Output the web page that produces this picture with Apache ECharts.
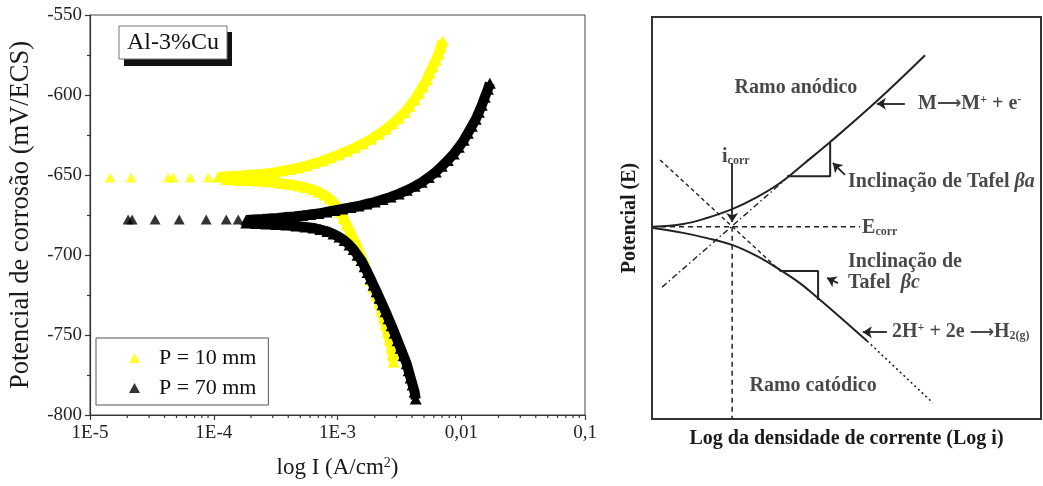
<!DOCTYPE html>
<html>
<head>
<meta charset="utf-8">
<script src="https://cdn.jsdelivr.net/npm/echarts@6/dist/echarts.min.js"></script>
<style>
  html, body { margin: 0; padding: 0; background: #fff; }
  #chart { width: 1043px; height: 486px; }
</style>
</head>
<body>
<div id="chart"></div>
<script>
// ---------- Polarization curves of Al-3%Cu (x: log10 of I in A/cm², y: E in mV/ECS) ----------
// P = 10 mm
const p10SparseLogI = [-4.838, -4.668, -4.368, -4.328, -4.190, -4.045];
const p10SparseE    = [-651.5, -651.5, -651.5, -651.5, -651.5, -651.5];

const p10AnodicLogI = [-3.964, -3.899, -3.834, -3.769, -3.704, -3.640, -3.575, -3.510, -3.445, -3.381,
                       -3.316, -3.251, -3.186, -3.121, -3.057, -2.992, -2.927, -2.862, -2.798, -2.733,
                       -2.668, -2.611, -2.555, -2.506, -2.457, -2.417, -2.377, -2.344, -2.312, -2.279,
                       -2.255, -2.231, -2.206, -2.182, -2.166, -2.150];
const p10AnodicE    = [-651.2, -650.9, -650.6, -650.3, -649.9, -649.6, -649.0, -648.4, -647.4, -646.5,
                       -645.6, -644.3, -642.7, -641.2, -639.3, -637.4, -635.2, -633.0, -630.5, -627.7,
                       -624.6, -621.4, -618.0, -614.5, -610.8, -607.0, -602.9, -598.9, -594.8, -590.4,
                       -586.3, -582.3, -578.2, -574.1, -570.1, -566.3];

const p10CathodicLogI = [-3.899, -3.834, -3.769, -3.704, -3.640, -3.575, -3.510, -3.445, -3.381, -3.316,
                         -3.259, -3.202, -3.154, -3.105, -3.065, -3.032, -3.000, -2.976, -2.951, -2.927,
                         -2.903, -2.879, -2.854, -2.830, -2.806, -2.781, -2.757, -2.733, -2.709, -2.684,
                         -2.660, -2.644, -2.628, -2.611, -2.595, -2.579, -2.563, -2.555, -2.547];
const p10CathodicE    = [-652.8, -653.1, -653.4, -653.4, -653.7, -654.0, -654.6, -655.3, -655.9, -656.8,
                         -657.8, -659.0, -660.6, -662.5, -664.7, -667.2, -670.3, -673.4, -677.2, -681.0,
                         -684.7, -689.1, -692.9, -697.2, -701.6, -706.0, -711.0, -715.4, -720.4, -725.4,
                         -730.5, -734.8, -739.2, -743.6, -748.0, -753.0, -758.0, -762.4, -766.8];

// P = 70 mm
const p70SparseLogI = [-4.692, -4.660, -4.474, -4.279, -4.061, -3.899, -3.802];
const p70SparseE    = [-677.8, -677.8, -677.8, -677.8, -677.8, -677.8, -677.8];

const p70AnodicLogI = [-3.737, -3.672, -3.607, -3.543, -3.478, -3.413, -3.348, -3.283, -3.219, -3.154,
                       -3.089, -3.024, -2.960, -2.895, -2.830, -2.765, -2.700, -2.636, -2.571, -2.506,
                       -2.441, -2.377, -2.320, -2.263, -2.206, -2.158, -2.109, -2.061, -2.020, -1.980,
                       -1.947, -1.915, -1.883, -1.858, -1.834, -1.810, -1.785, -1.769];
const p70AnodicE    = [-678.1, -677.8, -677.5, -677.2, -676.9, -676.3, -675.9, -675.3, -674.7, -674.1,
                       -673.1, -672.2, -671.2, -670.3, -669.4, -668.1, -666.9, -665.3, -663.7, -661.8,
                       -659.6, -657.1, -654.6, -651.5, -648.1, -644.6, -640.9, -636.8, -632.7, -628.3,
                       -623.9, -619.5, -615.2, -610.8, -606.4, -601.4, -596.4, -592.6];

const p70CathodicLogI = [-3.737, -3.656, -3.575, -3.494, -3.413, -3.332, -3.259, -3.194, -3.138, -3.081,
                         -3.032, -2.984, -2.943, -2.903, -2.870, -2.838, -2.806, -2.781, -2.757, -2.733,
                         -2.709, -2.684, -2.660, -2.636, -2.611, -2.587, -2.563, -2.538, -2.514, -2.490,
                         -2.466, -2.441, -2.425, -2.409, -2.393, -2.377, -2.368];
const p70CathodicE    = [-680.0, -680.3, -680.6, -681.0, -681.3, -681.9, -682.5, -683.1, -684.1, -685.3,
                         -686.9, -688.8, -691.0, -693.8, -696.6, -700.1, -703.5, -707.3, -711.0, -714.8,
                         -718.9, -722.9, -727.0, -731.1, -735.5, -739.8, -744.2, -748.9, -753.6, -758.3,
                         -763.0, -768.0, -772.4, -776.8, -781.2, -785.6, -790.0];

const seriesNames = ['P = 10 mm', 'P = 70 mm'];
const xTickLabels = ['1E-5', '1E-4', '1E-3', '0,01', '0,1'];
const xDecades = [-5, -4, -3, -2];
const minorMultipliers = [2, 3, 4, 5, 6, 7, 8, 9];

// ---------- Tafel schematic (arbitrary units: log i and E) ----------
const anodicCurveX   = [0.03, 0.80, 1.41, 2.06, 2.70, 3.29, 3.93, 4.58, 5.78, 7.02];
const anodicCurveE   = [4.78, 4.85, 5.00, 5.22, 5.52, 5.87, 6.37, 6.89, 7.91, 9.05];
const cathodicCurveX = [0.03, 0.80, 1.41, 2.06, 2.70, 3.29, 3.80, 4.24, 4.83, 5.53];
const cathodicCurveE = [4.75, 4.63, 4.50, 4.33, 4.05, 3.71, 3.38, 3.03, 2.54, 1.94];
const cathodicTail   = [[5.53, 1.94], [7.22, 0.40]];
const anodicTafel    = [[0.26, 3.28], [3.42, 5.95]];
const cathodicTafel  = [[0.21, 6.44], [3.30, 3.68]];
const ecorrLine      = [[0, 4.78], [5.35, 4.78]];
const icorrLine      = [[2.06, 4.78], [2.06, 0]];
const slopeTriangleA = [[3.47, 6.04], [4.58, 6.04], [4.58, 6.87]];
const slopeTriangleC = [[3.29, 3.68], [4.27, 3.68], [4.27, 2.96]];
const pointerArrows  = [
  [[2.06, 6.37], [2.06, 4.90]],
  [[6.50, 7.84], [5.78, 7.84]],
  [[4.96, 6.07], [4.65, 6.37]],
  [[4.78, 3.38], [4.50, 3.51]],
  [[6.04, 2.16], [5.42, 2.16]]
];
const schematicLabels = [
  { text: '{b|Ramo anódico}', at: [3.70, 8.23], align: 'center' },
  { text: '{b|M}{ar|⟶}{b|M}{sup|+}{b| + e}{sup|-}', at: [6.84, 7.84], align: 'left' },
  { text: '{b|i}{sub|corr}', at: [1.80, 6.52], align: 'left' },
  { text: '{b|Inclinação de Tafel }{bi|βa}', at: [5.04, 5.90], align: 'left' },
  { text: '{b|E}{sub|corr}', at: [5.40, 4.75], align: 'left' },
  { text: '{b|Inclinação de}', at: [5.04, 3.91], align: 'left' },
  { text: '{b|Tafel  }{bi|βc}', at: [5.04, 3.38], align: 'left' },
  { text: '{b|2H}{sup|+}{b| + 2e }{ar|⟶}{b|H}{sub|2(g)}', at: [6.17, 2.16], align: 'left' },
  { text: '{b|Ramo catódico}', at: [4.14, 0.82], align: 'center' }
];

// ---------- helpers ----------
const SERIF = '"Liberation Serif", "Times New Roman", serif';
const YELLOW = '#ffff00';
const BLACK = '#000000';
const toPoints = (logI, e) => logI.map((v, i) => [Math.pow(10, v), e[i]]);
const zip = (xs, ys) => xs.map((v, i) => [v, ys[i]]);
const minorTicks = [];
xDecades.forEach(d => minorMultipliers.forEach(m => minorTicks.push([m * Math.pow(10, d), -800])));

function bandSeries(name, color, data, z) {
  return {
    type: 'line', name, data, xAxisIndex: 0, yAxisIndex: 0,
    symbol: 'triangle', symbolSize: [12, 11], showSymbol: true,
    itemStyle: { color }, lineStyle: { color, width: 10 },
    z, silent: true, animation: false
  };
}
function sparseSeries(name, color, data, z) {
  return {
    type: 'scatter', name, data, xAxisIndex: 0, yAxisIndex: 0,
    symbol: 'triangle', symbolSize: [11, 10],
    itemStyle: { color }, z, silent: true
  };
}
function schemLine(data, type, width, extra) {
  return Object.assign({
    type: 'line', xAxisIndex: 1, yAxisIndex: 1, data, showSymbol: false, symbol: 'none',
    lineStyle: { color: '#222', width, type }, silent: true, z: 3
  }, extra || {});
}

const boldRich = {
  b:   { fontFamily: SERIF, fontWeight: 'bold', fontSize: 20, color: '#1a1a1a' },
  bi:  { fontFamily: SERIF, fontWeight: 'bold', fontStyle: 'italic', fontSize: 20, color: '#1a1a1a' },
  ar:  { fontFamily: '"DejaVu Sans", sans-serif', fontWeight: 'bold', fontSize: 17, color: '#1a1a1a' },
  sup: { fontFamily: SERIF, fontWeight: 'bold', fontSize: 12, color: '#1a1a1a', verticalAlign: 'top' },
  sub: { fontFamily: SERIF, fontWeight: 'bold', fontSize: 12, color: '#1a1a1a', verticalAlign: 'bottom' }
};

const chart = echarts.init(document.getElementById('chart'), null, { renderer: 'canvas' });

chart.setOption({
  animation: false,
  backgroundColor: '#ffffff',
  grid: [
    { left: 90, top: 15, width: 495, height: 400, show: true, borderColor: '#444', borderWidth: 1, backgroundColor: 'transparent' },
    { left: 652, top: 17, right: 2, bottom: 67, show: true, borderColor: '#333', borderWidth: 2, backgroundColor: 'transparent' }
  ],
  xAxis: [
    {
      gridIndex: 0, type: 'log', logBase: 10, min: 1e-5, max: 0.1,
      name: '{a|log I (A/cm}{s|2}{a|)}', nameLocation: 'middle', nameGap: 41,
      nameTextStyle: { rich: {
        a: { fontFamily: SERIF, fontSize: 23, color: '#1a1a1a' },
        s: { fontFamily: SERIF, fontSize: 14, color: '#1a1a1a', verticalAlign: 'top' }
      } },
      axisLine: { show: true, lineStyle: { color: '#333', width: 1.2 } },
      axisTick: { show: true, inside: false, length: 5, lineStyle: { color: '#333', width: 1.2 } },
      minorTick: { show: false },
      splitLine: { show: false },
      axisLabel: {
        fontFamily: SERIF, fontSize: 19, color: '#222', margin: 9,
        formatter: v => xTickLabels[Math.round(Math.log10(v)) + 5]
      }
    },
    {
      gridIndex: 1, type: 'value', min: 0, max: 10,
      name: 'Log da densidade de corrente (Log i)', nameLocation: 'middle', nameGap: 10,
      nameTextStyle: { fontFamily: SERIF, fontWeight: 'bold', fontSize: 20, color: '#1a1a1a', verticalAlign: 'top' },
      axisLine: { show: true, lineStyle: { color: '#333', width: 2 } },
      axisTick: { show: false }, axisLabel: { show: false }, splitLine: { show: false }
    }
  ],
  yAxis: [
    {
      gridIndex: 0, type: 'value', min: -800, max: -550, interval: 50,
      name: 'Potencial de corrosão (mV/ECS)', nameLocation: 'middle', nameGap: 55,
      nameTextStyle: { fontFamily: SERIF, fontSize: 26.5, color: '#1a1a1a' },
      axisLine: { show: true, lineStyle: { color: '#333', width: 1.2 } },
      axisTick: { show: true, inside: false, length: 5, lineStyle: { color: '#333', width: 1.2 } },
      minorTick: { show: true, splitNumber: 2, length: 3, lineStyle: { color: '#333', width: 1.2 } },
      splitLine: { show: false },
      axisLabel: { fontFamily: SERIF, fontSize: 19, color: '#222', margin: 8 }
    },
    {
      gridIndex: 1, type: 'value', min: 0, max: 10,
      name: 'Potencial (E)', nameLocation: 'middle', nameGap: 12,
      nameTextStyle: { fontFamily: SERIF, fontWeight: 'bold', fontSize: 20, color: '#1a1a1a' },
      axisLine: { show: true, lineStyle: { color: '#333', width: 2 } },
      axisTick: { show: false }, axisLabel: { show: false }, splitLine: { show: false }
    }
  ],
  legend: {
    data: [{ name: seriesNames[0], icon: 'triangle' }, { name: seriesNames[1], icon: 'triangle' }],
    orient: 'vertical', left: 96, top: 338,
    padding: [9, 12, 6, 33], itemGap: 8, itemWidth: 11, itemHeight: 10,
    borderColor: '#555', borderWidth: 1, backgroundColor: '#fff',
    selectedMode: false,
    textStyle: { fontFamily: SERIF, fontSize: 22, color: '#111', lineHeight: 22, padding: [0, 0, 0, 14] }
  },
  graphic: [
    { type: 'rect', shape: { x: 124, y: 32, width: 108, height: 34 }, style: { fill: '#111' }, z: 10 },
    { type: 'rect', shape: { x: 119, y: 26, width: 108, height: 33 }, style: { fill: '#fff', stroke: '#777', lineWidth: 1 }, z: 11 },
    { type: 'text', x: 173, y: 43, z: 12,
      style: { text: 'Al-3%Cu', font: '24px "Liberation Serif"', fill: '#111', align: 'center', verticalAlign: 'middle' } }
  ],
  series: [
    sparseSeries(seriesNames[0], YELLOW, toPoints(p10SparseLogI, p10SparseE), 2),
    bandSeries(seriesNames[0], YELLOW, toPoints(p10AnodicLogI, p10AnodicE), 2),
    bandSeries(seriesNames[0], YELLOW, toPoints(p10CathodicLogI, p10CathodicE), 2),
    sparseSeries(seriesNames[1], BLACK, toPoints(p70SparseLogI, p70SparseE), 3),
    bandSeries(seriesNames[1], BLACK, toPoints(p70AnodicLogI, p70AnodicE), 3),
    bandSeries(seriesNames[1], BLACK, toPoints(p70CathodicLogI, p70CathodicE), 3),
    {
      // logarithmic minor ticks on the current axis
      type: 'custom', xAxisIndex: 0, yAxisIndex: 0, data: minorTicks, clip: false, silent: true, z: 5,
      renderItem: (params, api) => {
        const p = api.coord([api.value(0), api.value(1)]);
        return { type: 'line', shape: { x1: p[0], y1: p[1], x2: p[0], y2: p[1] + 3 },
                 style: { stroke: '#333', lineWidth: 1.2 } };
      }
    },

    // Tafel schematic
    schemLine(zip(anodicCurveX, anodicCurveE), 'solid', 2, { smooth: 0.4 }),
    schemLine(zip(cathodicCurveX, cathodicCurveE), 'solid', 2, { smooth: 0.4 }),
    schemLine(cathodicTail, [2, 3], 1.6),
    schemLine(anodicTafel, [6, 3, 1.5, 3], 1.4),
    schemLine(cathodicTafel, [4, 3], 1.4),
    schemLine(ecorrLine, [5, 4], 1.5),
    schemLine(icorrLine, [5, 4], 1.5),
    schemLine(slopeTriangleA, 'solid', 2),
    schemLine(slopeTriangleC, 'solid', 2),
    {
      type: 'lines', coordinateSystem: 'cartesian2d', xAxisIndex: 1, yAxisIndex: 1,
      symbol: ['none', 'arrow'], symbolSize: 9, silent: true, z: 4,
      lineStyle: { color: '#222', width: 1.8, opacity: 1 },
      data: pointerArrows.map(a => ({ coords: a }))
    },
    {
      type: 'scatter', xAxisIndex: 1, yAxisIndex: 1, symbolSize: 0, silent: true, z: 6,
      data: schematicLabels.map(l => ({
        value: l.at,
        label: { show: true, formatter: l.text, align: l.align, verticalAlign: 'middle', position: [0, 0], rich: boldRich }
      }))
    }
  ]
});
</script>
</body>
</html>
